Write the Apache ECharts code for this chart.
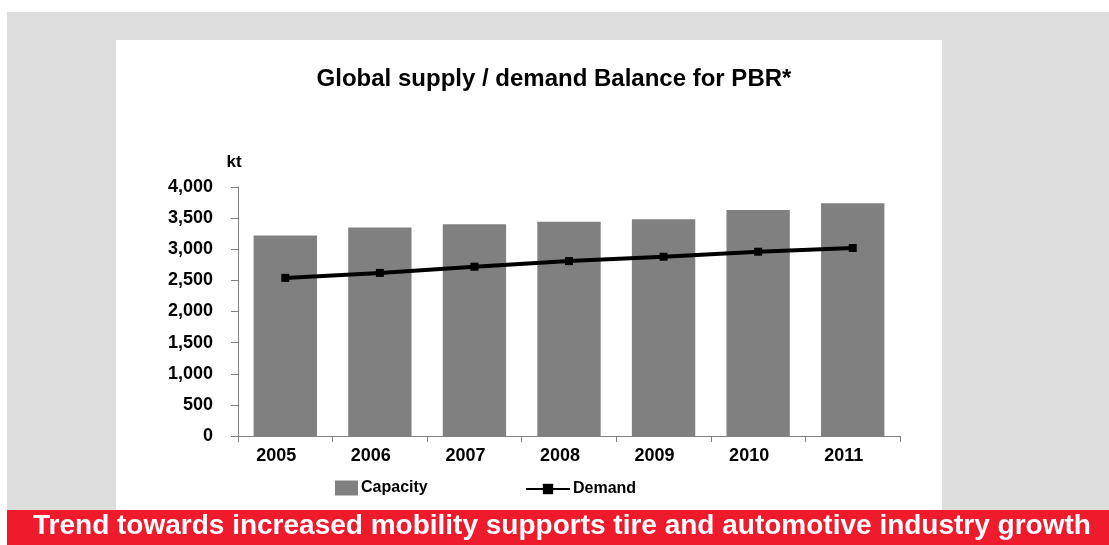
<!DOCTYPE html>
<html>
<head>
<meta charset="utf-8">
<script src="https://cdn.jsdelivr.net/npm/echarts@6/dist/echarts.min.js"></script>
<style>
  html, body { margin: 0; padding: 0; background: #fff; }
  #chart { width: 1109px; height: 545px; }
</style>
</head>
<body>
<div id="chart"></div>
<script>
// values (kt)
const years = ['2005', '2006', '2007', '2008', '2009', '2010', '2011'];
const capacity = [3220, 3350, 3400, 3440, 3480, 3630, 3740];
const demand = [2540, 2620, 2720, 2810, 2880, 2960, 3020];

const FONT = '"Liberation Sans", Arial, sans-serif';

const chart = echarts.init(document.getElementById('chart'), null, { renderer: 'canvas' });
chart.setOption({
  backgroundColor: '#fff',
  animation: false,
  textStyle: { fontFamily: FONT },
  graphic: [
    // grey frame, white panel, red banner
    { type: 'rect', z: -10, silent: true, shape: { x: 7, y: 12, width: 1102, height: 498 }, style: { fill: '#dddddd' } },
    { type: 'rect', z: -9, silent: true, shape: { x: 116, y: 40, width: 826, height: 470 }, style: { fill: '#ffffff' } },
    { type: 'rect', z: -8, silent: true, shape: { x: 7, y: 510, width: 1102, height: 35 }, style: { fill: '#ef1b2d' } },
    {
      type: 'text', left: 33, top: 512, silent: true,
      style: { text: 'Trend towards increased mobility supports tire and automotive industry growth',
               fill: '#fff', font: 'bold 28px ' + FONT }
    }
  ],
  title: {
    text: 'Global supply / demand Balance for PBR*',
    left: 549, top: 62, textAlign: 'center',
    textStyle: { fontFamily: FONT, fontWeight: 'bold', fontSize: 24, color: '#000' }
  },
  legend: [
    {
      data: ['Capacity'], icon: 'rect', left: 335, top: 480, padding: 0,
      itemWidth: 23, itemHeight: 15, itemGap: 4,
      textStyle: { fontFamily: FONT, fontWeight: 'bold', fontSize: 16, color: '#000', padding: [0, 0, 0, -2] }
    },
    {
      data: ['Demand'], left: 525, top: 481, padding: 0,
      itemWidth: 44, itemHeight: 13,
      textStyle: { fontFamily: FONT, fontWeight: 'bold', fontSize: 16, color: '#000', padding: [0, 0, 0, -2] }
    }
  ],
  grid: { left: 238, right: 209, top: 187, bottom: 109, containLabel: false },
  xAxis: {
    type: 'category',
    data: years,
    axisLine: { lineStyle: { color: '#808080', width: 1 } },
    axisTick: { show: true, length: 6, lineStyle: { color: '#808080' } },
    axisLabel: { color: '#000', fontWeight: 'bold', fontSize: 18, margin: 11, padding: [0, 18, 0, 0] }
  },
  yAxis: {
    type: 'value',
    min: 0, max: 4000, interval: 500,
    name: 'kt',
    nameGap: 16,
    nameTextStyle: { color: '#000', fontWeight: 'bold', fontSize: 17, padding: [0, 8, 0, 0] },
    axisLine: { show: true, lineStyle: { color: '#808080', width: 1 } },
    axisTick: { show: true, length: 7, lineStyle: { color: '#808080' } },
    splitLine: { show: false },
    axisLabel: {
      color: '#000', fontWeight: 'bold', fontSize: 18, margin: 25, padding: [4, 0, 0, 0],
      formatter: v => v.toLocaleString('en-US')
    }
  },
  series: [
    {
      name: 'Capacity', type: 'bar', data: capacity,
      barCategoryGap: '33%',
      itemStyle: { color: '#808080' }
    },
    {
      name: 'Demand', type: 'line', data: demand,
      symbol: 'rect', symbolSize: 8,
      lineStyle: { color: '#000', width: 4 },
      itemStyle: { color: '#000' }
    }
  ]
});
</script>
</body>
</html>
